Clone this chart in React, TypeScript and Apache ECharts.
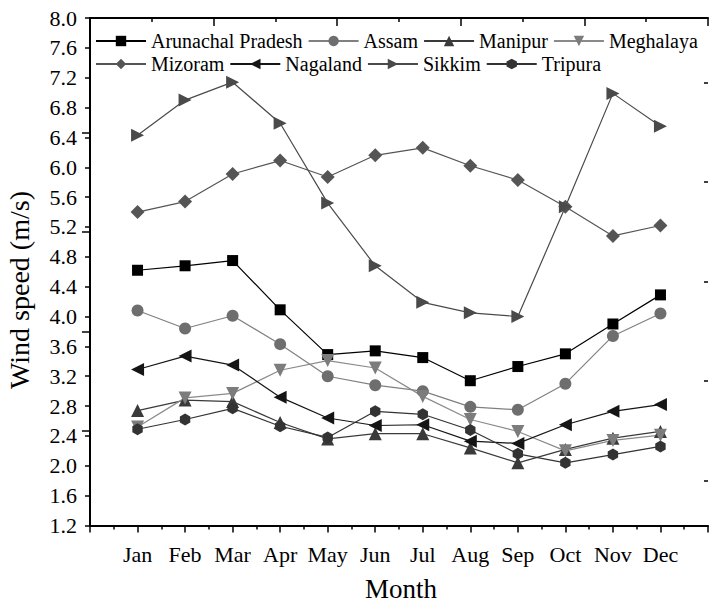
import React, { useEffect, useRef } from "react";
import * as echarts from "echarts";

const months = ["Jan", "Feb", "Mar", "Apr", "May", "Jun", "Jul", "Aug", "Sep", "Oct", "Nov", "Dec"];
const arunachal = [4.62, 4.68, 4.75, 4.09, 3.49, 3.54, 3.45, 3.14, 3.33, 3.5, 3.9, 4.29];
const assam = [4.08, 3.84, 4.01, 3.63, 3.2, 3.08, 3.0, 2.79, 2.75, 3.1, 3.74, 4.04];
const manipur = [2.74, 2.88, 2.86, 2.58, 2.36, 2.43, 2.43, 2.24, 2.04, 2.22, 2.37, 2.46];
const meghalaya = [2.52, 2.91, 2.97, 3.28, 3.41, 3.31, 2.93, 2.62, 2.46, 2.2, 2.34, 2.41];
const mizoram = [5.4, 5.54, 5.91, 6.09, 5.87, 6.16, 6.26, 6.02, 5.83, 5.47, 5.08, 5.22];
const nagaland = [3.29, 3.47, 3.35, 2.92, 2.64, 2.54, 2.55, 2.33, 2.3, 2.55, 2.73, 2.82];
const sikkim = [6.43, 6.9, 7.14, 6.59, 5.52, 4.68, 4.19, 4.05, 4.0, 5.47, 6.99, 6.55];
const tripura = [2.49, 2.62, 2.77, 2.53, 2.38, 2.73, 2.69, 2.48, 2.16, 2.04, 2.15, 2.26];

const yTicks = { min: 1.2, max: 8.0, interval: 0.4 };
const rightMajor = [1, 2, 3, 4];
const rightMinor = [0.5, 1.5, 2.5, 3.5, 4.5];

const FONT = "Liberation Serif";
const HEX = "path://M0,-1L0.866,-0.5L0.866,0.5L0,1L-0.866,0.5L-0.866,-0.5Z";

const seriesDefs = [
  { name: "Arunachal Pradesh", data: arunachal, symbol: "rect", rotate: 0, size: 11, color: "#000000", line: "#000000" },
  { name: "Assam", data: assam, symbol: "circle", rotate: 0, size: 12, color: "#6e6e6e", line: "#808080" },
  { name: "Manipur", data: manipur, symbol: "triangle", rotate: 0, size: 13, color: "#3a3a3a", line: "#3a3a3a" },
  { name: "Meghalaya", data: meghalaya, symbol: "triangle", rotate: 180, size: 13, color: "#7c7c7c", line: "#8a8a8a" },
  { name: "Mizoram", data: mizoram, symbol: "diamond", rotate: 0, size: 14, color: "#555555", line: "#555555" },
  { name: "Nagaland", data: nagaland, symbol: "triangle", rotate: 90, size: 13, color: "#151515", line: "#151515" },
  { name: "Sikkim", data: sikkim, symbol: "triangle", rotate: -90, size: 13, color: "#4a4a4a", line: "#4a4a4a" },
  { name: "Tripura", data: tripura, symbol: HEX, rotate: 0, size: 12, color: "#333333", line: "#333333" },
];

export default function App() {
  const ref = useRef<HTMLDivElement>(null);
  useEffect(() => {
    document.body.style.margin = "0";
    const chart = echarts.init(ref.current!, null, { renderer: "svg" });
    const axisLine = { show: true, lineStyle: { color: "#000", width: 2 } };
    const legendText = { fontFamily: FONT, fontSize: 20, color: "#000" };
    const legendCommon = {
      left: 90,
      width: 700,
      padding: [5, 0, 5, 5],
      orient: "horizontal",
      itemWidth: 50,
      itemHeight: 13,
      itemGap: 5,
      textStyle: legendText,
      selectedMode: false,
    };
    chart.setOption({
      animation: false,
      textStyle: { fontFamily: FONT },
      grid: { left: 90, top: 18, width: 622, height: 507.5 },
      legend: [
        {
          ...legendCommon,
          top: 26,
          data: seriesDefs.slice(0, 4).map((s) => ({ name: s.name, textStyle: legendText })),
        },
        {
          ...legendCommon,
          top: 49,
          data: seriesDefs.slice(4).map((s) => ({ name: s.name, textStyle: legendText })),
        },
      ],
      xAxis: [
        {
          type: "value",
          position: "bottom",
          min: 0,
          max: 13,
          interval: 1,
          axisLine,
          axisTick: { show: true, length: 7, lineStyle: { color: "#000", width: 1.5 } },
          minorTick: { show: true, splitNumber: 2, length: 4, lineStyle: { color: "#000", width: 1.5 } },
          axisLabel: {
            fontSize: 22,
            color: "#000",
            margin: 18,
            fontFamily: FONT,
            formatter: (v: number) => (v >= 1 && v <= 12 ? months[Math.round(v) - 1] : ""),
          },
          splitLine: { show: false },
          minorSplitLine: { show: false },
        },
        {
          type: "value",
          position: "top",
          min: 0,
          max: 5,
          interval: 1,
          axisLine,
          axisTick: { show: true, inside: true, length: 8, lineStyle: { color: "#000", width: 1.5 } },
          minorTick: { show: true, splitNumber: 2, length: 4, lineStyle: { color: "#000", width: 1.5 } },
          axisLabel: { show: false },
          splitLine: { show: false },
        },
      ],
      yAxis: [
        {
          type: "value",
          position: "left",
          min: yTicks.min,
          max: yTicks.max,
          interval: yTicks.interval,
          axisLine,
          axisTick: { show: true, length: 5, lineStyle: { color: "#000", width: 1.5 } },
          axisLabel: {
            fontSize: 22,
            color: "#000",
            margin: 13,
            fontFamily: FONT,
            formatter: (v: number) => v.toFixed(1),
          },
          splitLine: { show: false },
        },
        {
          type: "value",
          position: "right",
          min: 0.05,
          max: 5.15,
          axisLine,
          axisTick: { show: true, inside: true, length: 8, customValues: rightMajor, lineStyle: { color: "#000", width: 1.5 } },
          axisLabel: { show: false },
          splitLine: { show: false },
        },
        {
          type: "value",
          position: "right",
          min: 0.05,
          max: 5.15,
          axisLine: { show: false },
          axisTick: { show: true, inside: true, length: 4, customValues: rightMinor, lineStyle: { color: "#000", width: 1.5 } },
          axisLabel: { show: false },
          splitLine: { show: false },
        },
      ],
      series: seriesDefs.map((s) => ({
        name: s.name,
        type: "line",
        xAxisIndex: 0,
        yAxisIndex: 0,
        data: s.data.map((v, i) => [i + 1, v]),
        symbol: s.symbol,
        symbolSize: s.size,
        symbolRotate: s.rotate,
        symbolKeepAspect: true,
        showSymbol: true,
        itemStyle: { color: s.color },
        lineStyle: { color: s.line, width: 1.2 },
        emphasis: { disabled: true },
      })),
      graphic: [
        {
          type: "text",
          x: 19,
          y: 290,
          rotation: Math.PI / 2,
          style: {
            text: "Wind speed (m/s)",
            fontFamily: FONT,
            fontSize: 28,
            fill: "#000",
            textAlign: "center",
            textVerticalAlign: "middle",
          },
        },
        {
          type: "text",
          x: 401,
          y: 589,
          style: {
            text: "Month",
            fontFamily: FONT,
            fontSize: 27,
            fill: "#000",
            textAlign: "center",
            textVerticalAlign: "middle",
          },
        },
      ],
    });
    return () => chart.dispose();
  }, []);
  return <div ref={ref} style={{ width: 711, height: 605 }} />;
}
